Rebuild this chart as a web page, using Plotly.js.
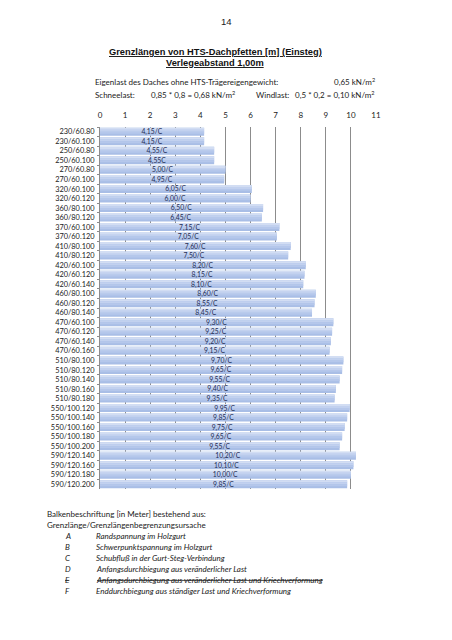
<!DOCTYPE html>
<html>
<head>
<meta charset="utf-8">
<script src="https://cdn.plot.ly/plotly-3.0.1.min.js"></script>
<style>html,body{margin:0;padding:0;background:#fff;}#chart{width:452px;height:640px;}</style>
</head>
<body>
<div id="chart"></div>
<script>
// ---- data ----
const profiles = ["230/60.80","230/60.100","250/60.80","250/60.100","270/60.80","270/60.100",
  "320/60.100","320/60.120","360/80.100","360/80.120","370/60.100","370/60.120",
  "410/80.100","410/80.120","420/60.100","420/60.120","420/60.140",
  "460/80.100","460/80.120","460/80.140","470/60.100","470/60.120","470/60.140","470/60.160",
  "510/80.100","510/80.120","510/80.140","510/80.160","510/80.180",
  "550/100.120","550/100.140","550/100.160","550/100.180","550/100.200",
  "590/120.140","590/120.160","590/120.180","590/120.200"];
const lengths = [4.15,4.15,4.55,4.55,5.00,4.95,6.05,6.00,6.50,6.45,7.15,7.05,7.60,7.50,
  8.20,8.15,8.10,8.60,8.55,8.45,9.30,9.25,9.20,9.15,9.70,9.65,9.55,9.40,9.35,
  9.95,9.85,9.75,9.65,9.55,10.20,10.10,10.00,9.85];
const barLabels = ["4,15/C","4,15/C","4,55/C","4,55C","5,00/C","4,95/C","6,05/C","6,00/C",
  "6,50/C","6,45/C","7,15/C","7,05/C","7,60/C","7,50/C","8,20/C","8,15/C","8,10/C",
  "8,60/C","8,55/C","8,45/C","9,30/C","9,25/C","9,20/C","9,15/C","9,70/C","9,65/C",
  "9,55/C","9,40/C","9,35/C","9,95/C","9,85/C","9,75/C","9,65/C","9,55/C",
  "10,20/C","10,10/C","10,00/C","9,85/C"];
const xTicks = [0,1,2,3,4,5,6,7,8,9,10,11];
const causeLetters = ["A","B","C","D","E","F"];
const causeTexts = ["Randspannung im Holzgurt","Schwerpunktspannung im Holzgurt",
  "Schubfluß in der Gurt-Steg-Verbindung","Anfangsdurchbiegung aus veränderlicher Last",
  "Anfangsdurchbiegung aus veränderlicher Last und Kriechverformung",
  "Enddurchbiegung aus ständiger Last und Kriechverformung"];
const struckCauses = ["E"];

// ---- layout geometry ----
const W = 452, H = 640;
const M = {l:100, r:76, t:127, b:151};
const PW = W - M.l - M.r, PH = H - M.t - M.b;
const px = x => (x - M.l) / PW;
const py = y => (H - M.b - y) / PH;
const CAL = "Lato, 'Open Sans', sans-serif";
const ARI = "'Liberation Sans', Arial, sans-serif";

function bar(color, width, offset, extra) {
  return Object.assign({
    type:'bar', orientation:'h', y: profiles, x: lengths,
    width: width, offset: offset,
    marker:{color: color, line:{width:0}}, hoverinfo:'skip', showlegend:false
  }, extra || {});
}
const BW = 0.84, B0 = -0.42;
const traces = [
  bar('#a9bee6', BW, B0),
  bar('#d2ddf3', 0.22, B0),
  bar('#c2d1ef', 0.2, B0 + 0.22),
  bar('#b5c7eb', 0.2, B0 + 0.42),
  bar('rgba(0,0,0,0)', BW, B0, {
    text: barLabels, textposition:'inside', insidetextanchor:'middle',
    textangle:0, constraintext:'none',
    textfont:{family:CAL, size:6.8, color:'#1f2d55'}
  })
];

function ann(text, x, y, xanchor, font) {
  return {text:text, x:px(x), y:py(y), xref:'paper', yref:'paper',
    xanchor:xanchor, yanchor:'middle', showarrow:false, font:font};
}
const fCal = {family:CAL, size:8, color:'#222'};
const fCalI = {family:CAL, size:8, color:'#222', style:'italic'};
const annotations = [
  ann('14', 226, 22, 'center', {family:ARI, size:9.5, color:'#222'}),
  ann('<b><u>Grenzlängen von HTS-Dachpfetten [m] (Einsteg)</u></b>', 215, 52, 'center', {family:ARI, size:9.3, color:'#111'}),
  ann('<b><u>Verlegeabstand 1,00m</u></b>', 215, 63, 'center', {family:ARI, size:9.3, color:'#111'}),
  ann('Eigenlast des Daches ohne HTS-Trägereigengewicht:', 93, 82, 'left', fCal),
  ann('0,65 kN/m<sup>2</sup>', 377, 81, 'right', fCal),
  ann('Schneelast:', 93, 95, 'left', fCal),
  ann('0,85 * 0,8 = 0,68 kN/m<sup>2</sup>', 149, 94, 'left', fCal),
  ann('Windlast:', 254, 95, 'left', fCal),
  ann('0,5 * 0,2 = 0,10 kN/m<sup>2</sup>', 377, 94, 'right', fCal),
  ann('Balkenbeschriftung [in Meter] bestehend aus:', 45, 514, 'left', fCal),
  ann('Grenzlänge/Grenzlängenbegrenzungsursache', 45, 525, 'left', fCal)
];
causeLetters.forEach((L, i) => {
  const y = 535.5 + i * 11;
  const strike = struckCauses.indexOf(L) >= 0;
  annotations.push(ann(strike ? '<s>' + L + '</s>' : L, 67.5, y, 'center', fCalI));
  annotations.push(ann(strike ? '<s>' + causeTexts[i] + '</s>' : causeTexts[i], 94, y, 'left', fCalI));
});

const layout = {
  width: W, height: H, margin: M,
  paper_bgcolor:'#fff', plot_bgcolor:'#fff',
  barmode:'overlay', bargap:0.16,
  showlegend:false,
  xaxis:{
    side:'top', range:[0,11], tickvals:xTicks, ticktext:xTicks.map(String),
    showgrid:true, gridcolor:'#8c8c8c', gridwidth:1, zeroline:false,
    showline:false, ticks:'', ticklabelstandoff:6,
    tickfont:{family:CAL, size:8, color:'#222'}, fixedrange:true
  },
  yaxis:{
    type:'category', categoryorder:'array', categoryarray:profiles,
    autorange:'reversed', showgrid:false, zeroline:false,
    showline:true, linecolor:'#8c8c8c', linewidth:1,
    ticks:'outside', tickson:'boundaries', ticklen:2, tickcolor:'#8c8c8c',
    ticklabelstandoff:3,
    tickfont:{family:CAL, size:7.4, color:'#222'}, fixedrange:true
  },
  annotations: annotations
};
Plotly.newPlot('chart', traces, layout, {staticPlot:true, displayModeBar:false});
</script>
</body>
</html>
